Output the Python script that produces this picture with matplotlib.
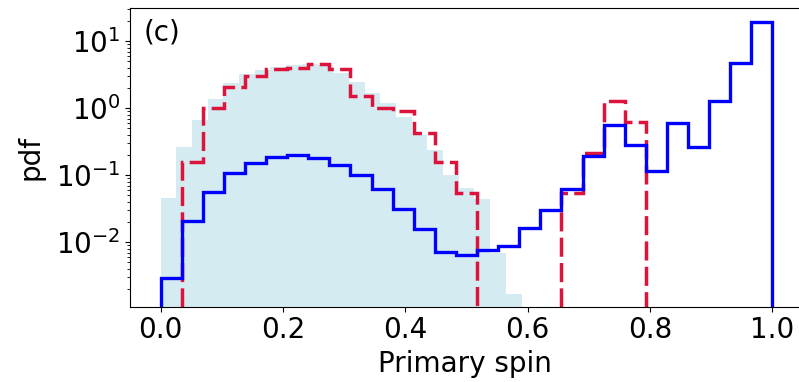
import numpy as np
from matplotlib import pyplot as plt

plt.rcParams['font.family'] = 'DejaVu Sans'
plt.rcParams['font.size'] = 20

# shared bins for the two step histograms (29 bins over [0, 1])
step_edges = np.linspace(0.0, 1.0, 30)

blue_pdf = [0.0029, 0.0208, 0.0569, 0.108, 0.155, 0.19, 0.201, 0.183, 0.143, 0.101,
            0.0618, 0.0311, 0.0156, 0.00724, 0.00646, 0.00767, 0.0088, 0.0165, 0.0303, 0.0625,
            0.196, 0.563, 0.283, 0.116, 0.597, 0.267, 1.30, 4.69, 19.6]

red_pdf = [0.0, 0.156, 1.0, 2.06, 3.03, 3.86, 4.04, 4.58, 3.82, 1.54,
           1.0, 0.911, 0.424, 0.156, 0.0539, 0.0, 0.0, 0.0, 0.0, 0.0539,
           0.217, 1.30, 0.631, 0.0, 0.0, 0.0, 0.0, 0.0, 0.0]

# filled reference distribution (23 bins over [0, 0.59])
fill_edges = np.linspace(0.0, 0.59, 24)
fill_pdf = [0.0454, 0.267, 0.669, 1.38, 2.36, 3.25, 3.73, 4.18, 4.43, 4.6,
            4.4, 3.33, 2.49, 1.72, 1.19, 0.75, 0.40, 0.24, 0.10, 0.065,
            0.045, 0.0069, 0.0017]

# empty bins can't go to 0 on a log axis, park them below the visible range
floor = 1e-5

fig = plt.figure(figsize=(7.99, 3.82), dpi=100)
# panel is cut at the right edge of the figure
ax = fig.add_axes([130/799, 1 - 306.7/382, 669/799, 298.4/382])

ax.stairs(fill_pdf, fill_edges, fill=True, color='lightblue', alpha=0.5, lw=0,
          baseline=floor)
ax.stairs(np.maximum(red_pdf, floor), step_edges, baseline=floor, color='crimson',
          lw=2.5, linestyle=(0, (5.5, 1.8)))
ax.stairs(np.maximum(blue_pdf, floor), step_edges, baseline=floor, color='blue', lw=2.4)

ax.set_yscale('log')
ax.set_xlim(-0.05, -0.05 + 1.1 * 669 / 673)
ax.set_ylim(1.094e-3, 31.1)
ax.set_xticks([0.0, 0.2, 0.4, 0.6, 0.8, 1.0])
ax.spines['right'].set_visible(False)
ax.set_xlabel('Primary spin')
ax.set_ylabel('pdf', labelpad=8)
ax.text(0.02, 0.92, '(c)', transform=ax.transAxes, va='center', ha='left')

fig.savefig('out.png', dpi=100)
